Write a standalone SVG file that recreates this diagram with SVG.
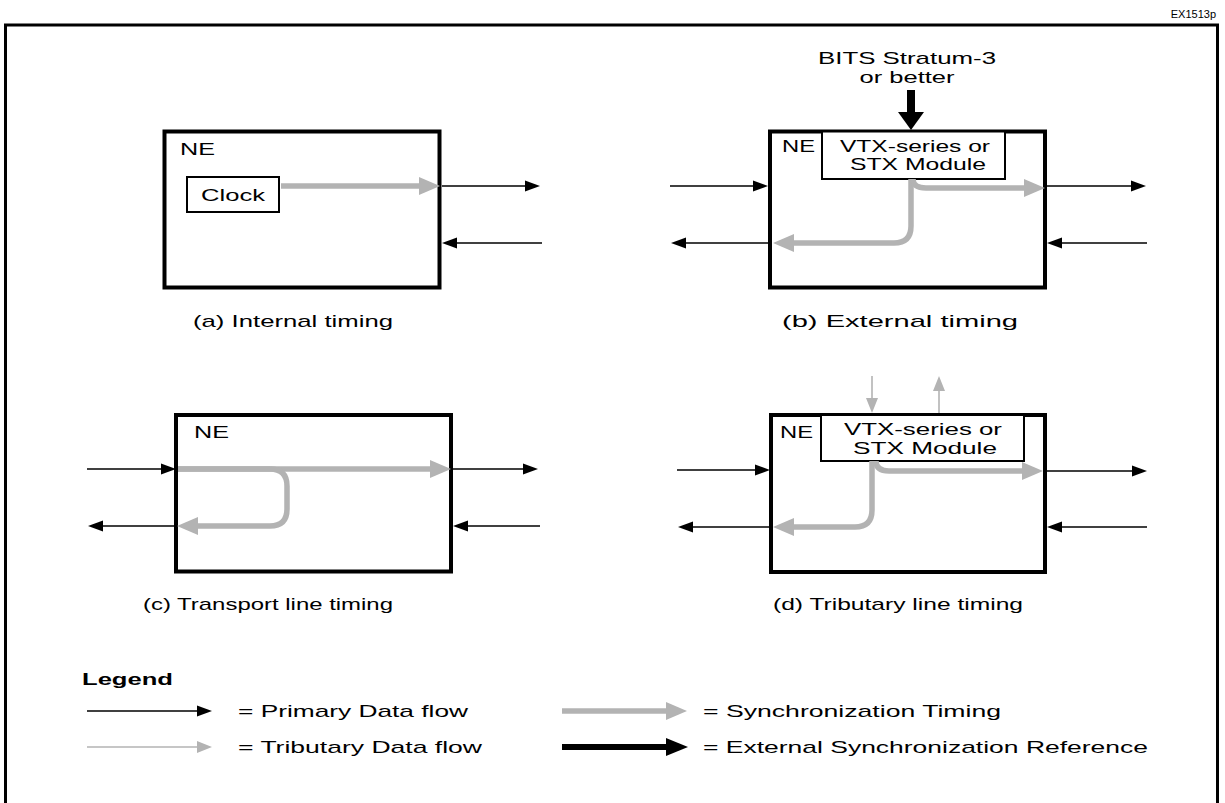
<svg xmlns="http://www.w3.org/2000/svg" width="1225" height="803" viewBox="0 0 1225 803">
<style>
text{font-family:"Liberation Sans",Arial,Helvetica,sans-serif;font-size:17px;fill:#000}
.small{font-size:11px}
.bold{font-weight:bold}
.frame{fill:none;stroke:#000;stroke-width:3}
.box{fill:#fff;stroke:#000;stroke-width:4}
.inner{fill:#fff;stroke:#000;stroke-width:2}
.prim{fill:none;stroke:#000;stroke-width:1.6;marker-end:url(#primHead)}
.trib{fill:none;stroke:#b3b3b3;stroke-width:1.6;marker-end:url(#tribHead)}
.sync{fill:none;stroke:#b3b3b3;stroke-width:5.5;marker-end:url(#syncHead)}
.ext{fill:none;stroke:#000;stroke-width:6;marker-end:url(#extHead)}
.bits{fill:none;stroke:#000;stroke-width:8;marker-end:url(#bitsHead)}
</style>
<defs>
<marker id="primHead" markerUnits="userSpaceOnUse" markerWidth="15" markerHeight="12" refX="0" refY="6" orient="auto"><path d="M0,0.5 L15,6 L0,11.5 z" fill="#000"/></marker>
<marker id="tribHead" markerUnits="userSpaceOnUse" markerWidth="15" markerHeight="12" refX="0" refY="6" orient="auto"><path d="M0,0 L15,6 L0,12 z" fill="#b3b3b3"/></marker>
<marker id="syncHead" markerUnits="userSpaceOnUse" markerWidth="21" markerHeight="18" refX="0" refY="9" orient="auto"><path d="M0,0 L21,9 L0,18 z" fill="#b3b3b3"/></marker>
<marker id="extHead" markerUnits="userSpaceOnUse" markerWidth="22" markerHeight="18" refX="0" refY="9" orient="auto"><path d="M0,0 L22,9 L0,18 z" fill="#000"/></marker>
<marker id="bitsHead" markerUnits="userSpaceOnUse" markerWidth="18" markerHeight="26" refX="0" refY="13" orient="auto"><path d="M0,0 L18,13 L0,26 z" fill="#000"/></marker>
</defs>
<rect width="1225" height="803" fill="#fff"/>
<text class="small" x="1216" y="18" text-anchor="end">EX1513p</text>
<rect class="frame" x="5.5" y="25" width="1212" height="800"/>

<g id="ne-a">
<rect class="box" x="164.5" y="131.5" width="275" height="156"/>
<text x="180" y="155" textLength="35" lengthAdjust="spacingAndGlyphs">NE</text>
<g id="clock-a">
<rect class="inner" x="187" y="177" width="92" height="35"/>
<text x="233" y="201" text-anchor="middle" textLength="64" lengthAdjust="spacingAndGlyphs">Clock</text>
</g>
<text x="293" y="327" text-anchor="middle" textLength="200" lengthAdjust="spacingAndGlyphs">(a) Internal timing</text>
</g>

<g id="ne-b">
<rect class="box" x="770" y="131.5" width="275" height="156"/>
<text x="782" y="152" textLength="33" lengthAdjust="spacingAndGlyphs">NE</text>
<g id="vtx-b">
<rect class="inner" x="822" y="131.5" width="183" height="47.5"/>
<text x="915" y="152" text-anchor="middle" textLength="150" lengthAdjust="spacingAndGlyphs">VTX-series or</text>
<text x="918" y="170" text-anchor="middle" textLength="136" lengthAdjust="spacingAndGlyphs">STX Module</text>
</g>
<text x="907" y="64" text-anchor="middle" textLength="178" lengthAdjust="spacingAndGlyphs">BITS Stratum-3</text>
<text x="907" y="83" text-anchor="middle" textLength="95" lengthAdjust="spacingAndGlyphs">or better</text>
<text x="900" y="327" text-anchor="middle" textLength="236" lengthAdjust="spacingAndGlyphs">(b) External timing</text>
</g>

<g id="ne-c">
<rect class="box" x="176" y="415" width="275" height="156.5"/>
<text x="194" y="438" textLength="35" lengthAdjust="spacingAndGlyphs">NE</text>
<text x="268" y="610" text-anchor="middle" textLength="250" lengthAdjust="spacingAndGlyphs">(c) Transport line timing</text>
</g>

<g id="ne-d">
<rect class="box" x="771" y="415" width="274" height="157"/>
<text x="780" y="438" textLength="33" lengthAdjust="spacingAndGlyphs">NE</text>
<g id="vtx-d">
<rect class="inner" x="821" y="415" width="203" height="46"/>
<text x="923" y="435" text-anchor="middle" textLength="158" lengthAdjust="spacingAndGlyphs">VTX-series or</text>
<text x="925" y="454" text-anchor="middle" textLength="144" lengthAdjust="spacingAndGlyphs">STX Module</text>
</g>
<text x="898" y="610" text-anchor="middle" textLength="250" lengthAdjust="spacingAndGlyphs">(d) Tributary line timing</text>
</g>

<g id="legend">
<text class="bold" x="82" y="685" textLength="91" lengthAdjust="spacingAndGlyphs">Legend</text>
<text x="238" y="717" textLength="230" lengthAdjust="spacingAndGlyphs">= Primary Data flow</text>
<text x="238" y="753" textLength="244" lengthAdjust="spacingAndGlyphs">= Tributary Data flow</text>
<text x="703" y="717" textLength="298" lengthAdjust="spacingAndGlyphs">= Synchronization Timing</text>
<text x="703" y="753" textLength="445" lengthAdjust="spacingAndGlyphs">= External Synchronization Reference</text>
</g>

<g id="connectors">
<path class="sync" d="M281,186 H419"/>
<path class="prim" d="M442,186 H525"/>
<path class="prim" d="M542,243 H457"/>
<path class="bits" d="M911,90 V112"/>
<path class="sync" d="M911,179 V226 Q911,243 894,243 H794"/>
<path class="sync" d="M913,179 Q913,188 926,188 H1024"/>
<path class="prim" d="M670,186 H753"/>
<path class="prim" d="M768,243 H686"/>
<path class="prim" d="M1047,186 H1131"/>
<path class="prim" d="M1147,243 H1062"/>
<path class="sync" d="M178,469 H430"/>
<path class="sync" d="M178,469 H270 Q287,469 287,486 V509 Q287,526 270,526 H198"/>
<path class="prim" d="M87,469 H161"/>
<path class="prim" d="M176,526 H103"/>
<path class="prim" d="M453,469 H523"/>
<path class="prim" d="M540,526 H468"/>
<path class="trib" d="M872,376 V398"/>
<path class="trib" d="M939,413 V391"/>
<path class="sync" d="M872,461 V510 Q872,527 855,527 H794"/>
<path class="sync" d="M876,461 Q876,471 889,471 H1022"/>
<path class="prim" d="M677,470 H755"/>
<path class="prim" d="M770,527 H693"/>
<path class="prim" d="M1047,471 H1132"/>
<path class="prim" d="M1147,527 H1062"/>
<path class="prim" d="M87,711 H197"/>
<path class="trib" d="M87,747 H197"/>
<path class="sync" d="M562,711 H666"/>
<path class="ext" d="M562,747 H666"/>
</g>
</svg>
